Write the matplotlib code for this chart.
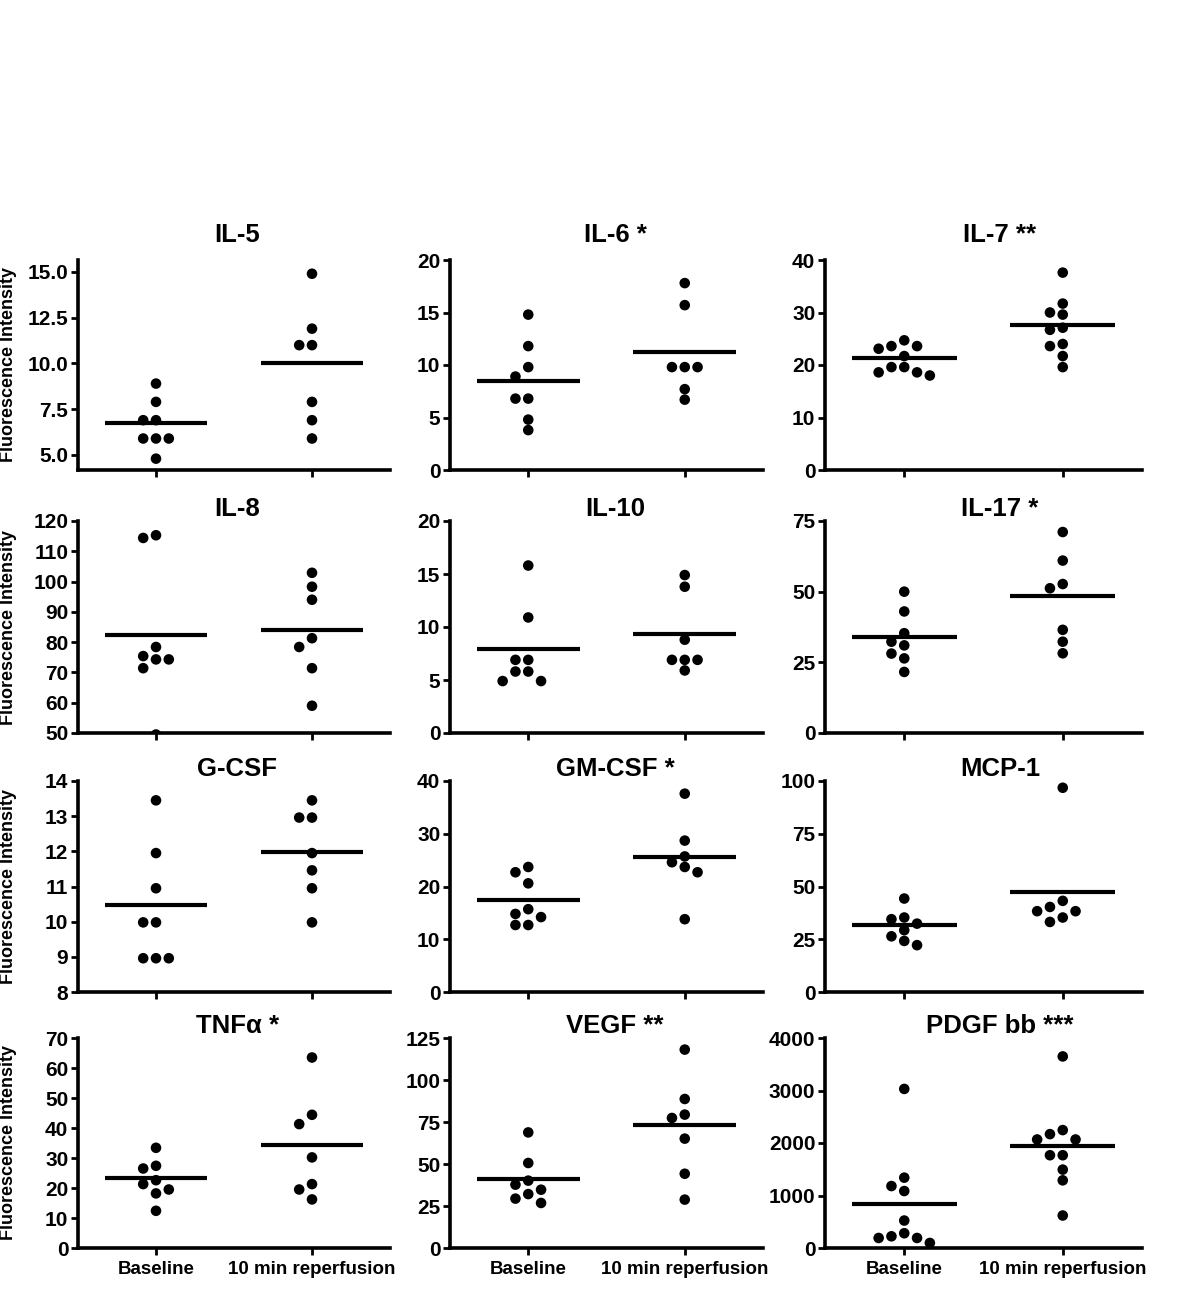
import matplotlib
matplotlib.use("Agg")
import matplotlib.pyplot as plt
import numpy as np

plt.rcParams['font.family'] = ['Liberation Sans', 'DejaVu Sans']
plt.rcParams['font.weight'] = 'bold'

titles = ['IL-5', 'IL-6 *', 'IL-7 **',
          'IL-8', 'IL-10', 'IL-17 *',
          'G-CSF', 'GM-CSF *', 'MCP-1',
          'TNFα *', 'VEGF **', 'PDGF bb ***']

groups = ['Baseline', '10 min reperfusion']

baseline = [
    [8.9, 7.9, 6.9, 6.9, 5.9, 5.9, 5.9, 4.8],
    [14.8, 11.8, 9.8, 8.9, 6.8, 6.8, 4.8, 3.8],
    [24.7, 23.6, 23.6, 23.1, 21.7, 19.6, 19.6, 18.6, 18.6, 18.0],
    [115.3, 114.4, 78.4, 75.4, 74.3, 74.3, 71.4, 49.5],
    [15.8, 10.9, 6.9, 6.9, 5.8, 5.8, 4.9, 4.9],
    [50.0, 43.0, 35.3, 32.3, 31.0, 28.1, 26.4, 21.6],
    [13.45, 11.95, 10.95, 9.98, 9.98, 8.96, 8.96, 8.96],
    [23.7, 22.7, 20.6, 15.7, 14.8, 14.2, 12.7, 12.7],
    [44.3, 35.3, 34.5, 32.4, 29.3, 26.4, 24.2, 22.2],
    [33.4, 27.4, 26.5, 22.6, 21.3, 19.5, 18.2, 12.4],
    [68.8, 50.6, 40.1, 37.7, 34.7, 32.1, 29.4, 26.8],
    [3030, 1340, 1180, 1085, 523, 281, 223, 191, 191, 96],
]

reperfusion = [
    [14.9, 11.9, 11.0, 11.0, 7.9, 6.9, 5.9],
    [17.8, 15.7, 9.8, 9.8, 9.8, 7.7, 6.7],
    [37.6, 31.7, 30.0, 29.6, 27.1, 26.7, 24.0, 23.6, 21.7, 19.6],
    [102.9, 98.3, 94.0, 81.3, 78.4, 71.4, 59.0],
    [14.9, 13.8, 8.8, 6.9, 6.9, 6.9, 5.9],
    [71.1, 61.0, 52.7, 51.2, 36.5, 32.3, 28.2],
    [13.45, 12.96, 12.96, 11.95, 11.46, 10.95, 9.98],
    [37.6, 28.7, 25.7, 24.6, 23.7, 22.7, 13.8],
    [96.8, 43.2, 40.3, 38.3, 38.3, 35.3, 33.2],
    [63.5, 44.4, 41.3, 30.2, 21.3, 19.5, 16.2],
    [118.1, 88.7, 79.4, 77.4, 65.1, 44.2, 28.8],
    [3649, 2246, 2169, 2067, 2067, 1767, 1767, 1493, 1289, 619],
]

baseline_mean = [6.76, 8.47, 21.4, 82.3, 7.94, 34.1, 10.46, 17.46, 31.6, 23.2, 41.3, 842]
reperfusion_mean = [10.0, 11.24, 27.6, 84.1, 9.3, 48.3, 11.98, 25.6, 47.2, 34.3, 73.0, 1946]

y_ranges = [(4.18, 15.65), (0, 20), (0, 40),
            (50, 120), (0, 20), (0, 75),
            (8, 14), (0, 40), (0, 100),
            (0, 70), (0, 125), (0, 4000)]

y_ticks = [[5.0, 7.5, 10.0, 12.5, 15.0], [0, 5, 10, 15, 20], [0, 10, 20, 30, 40],
           [50, 60, 70, 80, 90, 100, 110, 120], [0, 5, 10, 15, 20], [0, 25, 50, 75],
           [8, 9, 10, 11, 12, 13, 14], [0, 10, 20, 30, 40], [0, 25, 50, 75, 100],
           [0, 10, 20, 30, 40, 50, 60, 70], [0, 25, 50, 75, 100, 125], [0, 1000, 2000, 3000, 4000]]

W, H = 1200, 1292
fig = plt.figure(figsize=(W / 100, H / 100), dpi=100)

col_left = [78, 450, 825]
col_width = [312, 313, 317]
row_top = [260, 521, 781, 1038]
row_bottom = [470, 733, 992, 1248]
title_x = [0.51, 0.527, 0.552]
title_pad = [13, 2, 1.5, 0.5]


def swarm_x(ax, xc, vals, step_px=12.8, diam_px=10.5):
    # simple beeswarm: shift dots sideways until they do not touch
    t = ax.transData
    px_per_unit = t.transform((1, 0))[0] - t.transform((0, 0))[0]
    placed = []
    xs = []
    for v in vals:
        ypx = t.transform((xc, v))[1]
        for k in [0, -1, 1, -2, 2, -3, 3]:
            if all(np.hypot(k * step_px - px, ypx - py) >= diam_px for px, py in placed):
                break
        placed.append((k * step_px, ypx))
        xs.append(xc + k * step_px / px_per_unit)
    return xs


for i in range(12):
    r, c = divmod(i, 3)
    left = col_left[c] / W
    bottom = 1 - row_bottom[r] / H
    ax = fig.add_axes([left, bottom, col_width[c] / W, (row_bottom[r] - row_top[r]) / H])
    ax.set_xlim(-0.5, 1.5)
    ax.set_ylim(*y_ranges[i])

    for xc, vals, m in [(0, baseline[i], baseline_mean[i]), (1, reperfusion[i], reperfusion_mean[i])]:
        xs = swarm_x(ax, xc, vals)
        ax.scatter(xs, vals, s=58, color='black', edgecolors='none', zorder=3)
        ax.plot([xc - 0.33, xc + 0.33], [m, m], color='black', lw=3, solid_capstyle='butt', zorder=2)

    ax.set_xticks([0, 1])
    if r == 3:
        ax.set_xticklabels(groups, fontsize=13.5, fontweight='bold')
    else:
        ax.set_xticklabels(['', ''])
    ax.set_yticks(y_ticks[i])
    if i == 0:
        ax.set_yticklabels(['%.1f' % t for t in y_ticks[i]])
    for lab in ax.get_yticklabels():
        lab.set_fontsize(15)
        lab.set_fontweight('bold')

    for s in ['top', 'right']:
        ax.spines[s].set_visible(False)
    for s in ['left', 'bottom']:
        ax.spines[s].set_linewidth(2.6)
    ax.tick_params(axis='both', direction='out', length=5, width=2, pad=2)
    ax.tick_params(axis='x', pad=4)

    ax.set_title(titles[i], x=title_x[c], pad=title_pad[r], fontsize=18.5, fontweight='bold')

    if c == 0:
        fig.text(9 / W, 1 - (row_top[r] + row_bottom[r]) / 2 / H, 'Fluorescence Intensity',
                 rotation=90, ha='center', va='center', fontsize=13, fontweight='bold')

fig.savefig('out.png', dpi=100, facecolor='white')
